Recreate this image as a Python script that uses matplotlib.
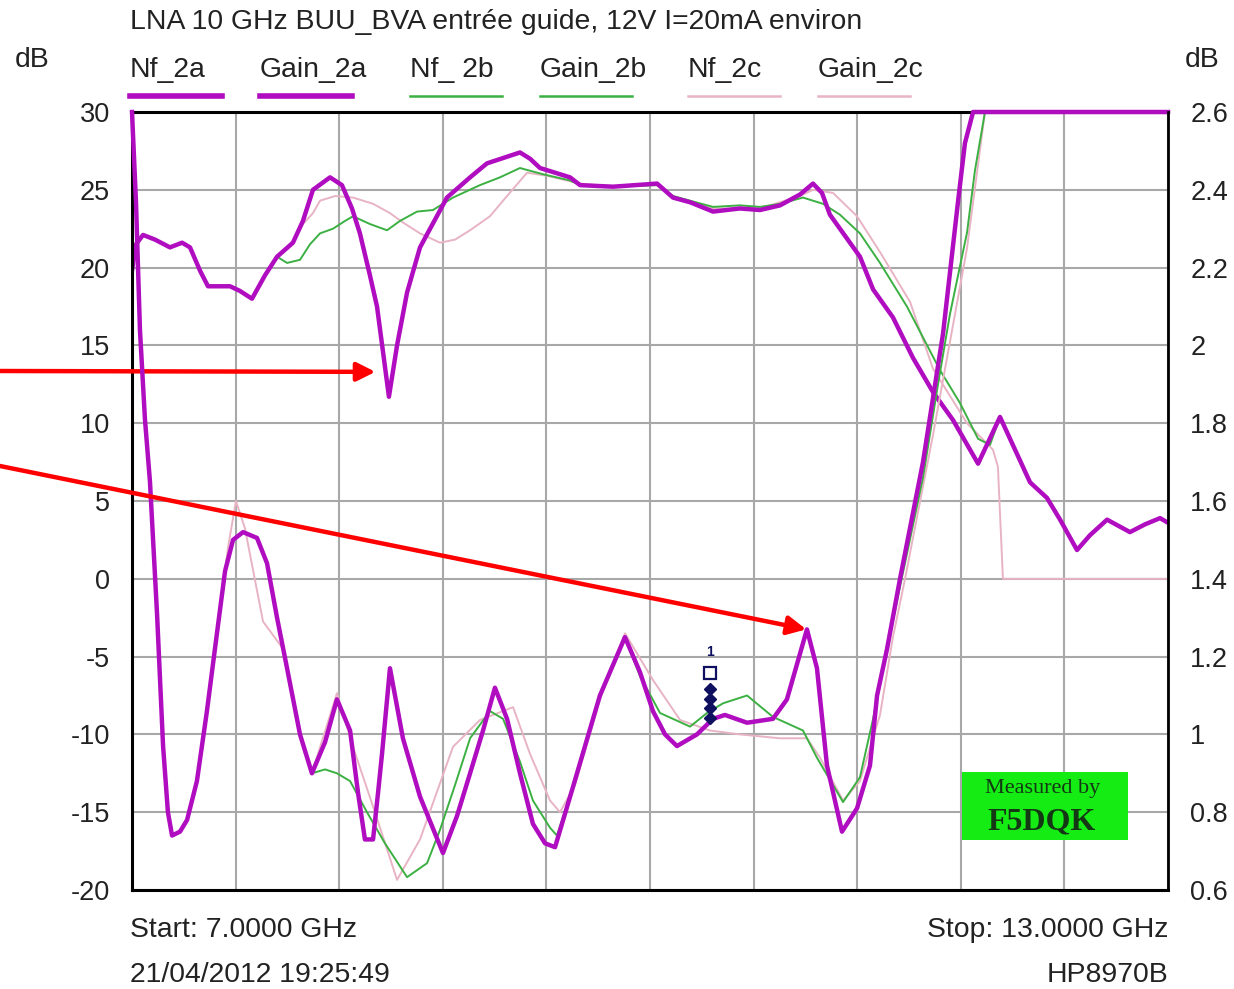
import numpy as np
import matplotlib
matplotlib.use("Agg")
import matplotlib.pyplot as plt
from matplotlib.lines import Line2D
from matplotlib.patches import Rectangle

# ---------------- measurement data (frequency in GHz) ----------------
gain_2a_f = [7.000, 7.023, 7.064, 7.133, 7.220, 7.290, 7.336, 7.394, 7.440, 7.568, 7.625, 7.695,
             7.770, 7.840, 7.932, 7.990, 8.048, 8.147, 8.216, 8.274, 8.320, 8.378, 8.419, 8.488,
             8.535, 8.593, 8.668, 8.824, 8.958, 9.056, 9.247, 9.305, 9.363, 9.537, 9.595, 9.786,
             10.041, 10.133, 10.232, 10.365, 10.521, 10.637, 10.753, 10.869, 10.944, 10.996,
             11.042, 11.216, 11.292, 11.407, 11.523, 11.639, 11.755, 11.900, 12.027, 12.114,
             12.201, 12.299, 12.375, 12.473, 12.548, 12.647, 12.780, 12.867, 12.954, 13.000]
gain_2a = [19.8, 21.5, 22.1, 21.8, 21.3, 21.6, 21.3, 19.8, 18.8, 18.8, 18.5, 18.0,
           19.5, 20.7, 21.6, 23.0, 25.0, 25.8, 25.3, 23.8, 22.2, 19.5, 17.5, 11.7,
           15.0, 18.4, 21.3, 24.5, 25.8, 26.7, 27.4, 27.0, 26.4, 25.8, 25.3, 25.2,
           25.4, 24.5, 24.2, 23.6, 23.8, 23.7, 24.0, 24.7, 25.4, 24.8,
           23.4, 20.7, 18.6, 16.8, 14.2, 12.0, 10.2, 7.4, 10.4, 8.3,
           6.2, 5.2, 3.8, 1.85, 2.8, 3.8, 3.0, 3.5, 3.9, 3.6]

gain_2b_f = [7.000, 7.023, 7.064, 7.133, 7.220, 7.290, 7.336, 7.394, 7.440, 7.568, 7.625, 7.695,
             7.770, 7.840, 7.898, 7.973, 8.031, 8.089, 8.164, 8.234, 8.280, 8.378, 8.477, 8.552,
             8.651, 8.743, 8.859, 9.015, 9.131, 9.247, 9.380, 9.537, 9.595, 9.786, 10.041, 10.133,
             10.365, 10.521, 10.637, 10.753, 10.886, 11.002, 11.100, 11.216, 11.332, 11.488,
             11.680, 11.795, 11.900, 11.969, 12.027, 12.114, 12.201, 12.299, 12.375, 12.473,
             12.548, 12.647, 12.780, 12.867, 12.954, 13.000]
gain_2b = [19.8, 21.5, 22.1, 21.8, 21.3, 21.6, 21.3, 19.8, 18.8, 18.8, 18.5, 18.0,
           19.5, 20.7, 20.3, 20.5, 21.5, 22.2, 22.5, 23.0, 23.3, 22.8, 22.4, 23.0,
           23.6, 23.7, 24.5, 25.3, 25.8, 26.4, 26.0, 25.6, 25.3, 25.2, 25.3, 24.6,
           23.9, 24.0, 23.9, 24.1, 24.5, 24.1, 23.4, 22.2, 20.3, 17.5,
           13.4, 11.3, 9.0, 8.6, 10.4, 8.3, 6.2, 5.2, 3.8, 1.85,
           2.8, 3.8, 3.0, 3.5, 3.9, 3.6]

gain_2c_f = [7.000, 7.023, 7.064, 7.133, 7.220, 7.290, 7.336, 7.394, 7.440, 7.568, 7.625, 7.695,
             7.770, 7.840, 7.932, 7.990, 8.048, 8.089, 8.176, 8.280, 8.396, 8.494, 8.569, 8.668,
             8.784, 8.871, 8.958, 9.073, 9.149, 9.288, 9.403, 9.595, 9.786, 10.041, 10.133,
             10.365, 10.637, 10.869, 10.944, 11.060, 11.199, 11.332, 11.506, 11.639, 11.836,
             11.986, 12.015, 12.044, 13.000]
gain_2c = [19.8, 21.5, 22.1, 21.8, 21.3, 21.6, 21.3, 19.8, 18.8, 18.8, 18.5, 18.0,
           19.5, 20.7, 21.6, 22.8, 23.5, 24.3, 24.6, 24.5, 24.1, 23.5, 22.9, 22.2,
           21.6, 21.8, 22.4, 23.3, 24.3, 26.1, 25.9, 25.4, 25.2, 25.3, 24.6,
           23.8, 23.8, 24.6, 25.0, 24.8, 23.3, 21.0, 17.8, 13.5, 10.0,
           8.3, 7.2, 0.0, 0.0]

nf_2a_f = [7.000, 7.023, 7.046, 7.075, 7.104, 7.145, 7.180, 7.208, 7.232, 7.278, 7.319, 7.376,
           7.434, 7.492, 7.539, 7.585, 7.643, 7.724, 7.782, 7.840, 7.898, 7.973, 8.042, 8.118,
           8.187, 8.263, 8.309, 8.349, 8.396, 8.425, 8.448, 8.494, 8.569, 8.668, 8.801, 8.882,
           8.958, 9.033, 9.102, 9.172, 9.247, 9.322, 9.392, 9.450, 9.554, 9.710, 9.855, 9.942,
           10.017, 10.087, 10.156, 10.272, 10.365, 10.434, 10.562, 10.712, 10.793, 10.851,
           10.909, 10.967, 11.025, 11.112, 11.199, 11.274, 11.315, 11.373, 11.448, 11.581,
           11.697, 11.784, 11.824, 11.871, 13.000]
nf_2a = [2.60, 2.37, 2.04, 1.81, 1.65, 1.31, 0.97, 0.80, 0.74, 0.75, 0.78, 0.88,
         1.06, 1.26, 1.42, 1.50, 1.52, 1.505, 1.44, 1.30, 1.17, 1.00, 0.90, 0.98,
         1.09, 1.01, 0.85, 0.73, 0.73, 0.85, 0.95, 1.17, 0.99, 0.84, 0.695, 0.79,
         0.90, 1.01, 1.12, 1.04, 0.90, 0.77, 0.72, 0.71, 0.865, 1.10, 1.25, 1.16,
         1.06, 1.00, 0.97, 1.00, 1.04, 1.05, 1.03, 1.04, 1.09, 1.18,
         1.27, 1.17, 0.92, 0.75, 0.81, 0.92, 1.10, 1.22, 1.40, 1.70,
         2.03, 2.37, 2.52, 2.60, 2.60]

nf_2b_f = [7.000, 7.023, 7.046, 7.075, 7.104, 7.145, 7.180, 7.208, 7.232, 7.278, 7.319, 7.376,
           7.434, 7.492, 7.539, 7.585, 7.643, 7.724, 7.782, 7.840, 7.898, 7.973, 8.042, 8.118,
           8.187, 8.263, 8.361, 8.465, 8.593, 8.709, 8.784, 8.871, 8.958, 9.073, 9.149, 9.247,
           9.322, 9.421, 9.461, 9.554, 9.710, 9.855, 9.942, 10.058, 10.232, 10.330, 10.423,
           10.562, 10.712, 10.886, 10.967, 11.118, 11.216, 11.292, 11.373, 11.448, 11.581,
           11.668, 11.737, 11.836, 11.882, 11.940, 13.000]
nf_2b = [2.60, 2.37, 2.04, 1.81, 1.65, 1.31, 0.97, 0.80, 0.74, 0.75, 0.78, 0.88,
         1.06, 1.26, 1.42, 1.50, 1.52, 1.505, 1.44, 1.30, 1.17, 1.00, 0.90, 0.91,
         0.90, 0.88, 0.80, 0.72, 0.633, 0.669, 0.755, 0.87, 0.99, 1.06, 1.04, 0.93,
         0.83, 0.76, 0.74, 0.865, 1.10, 1.25, 1.15, 1.055, 1.02, 1.055, 1.08,
         1.10, 1.045, 1.01, 0.94, 0.826, 0.89, 1.04, 1.22, 1.38, 1.66,
         1.90, 2.08, 2.29, 2.45, 2.60, 2.60]

nf_2c_f = [7.000, 7.023, 7.046, 7.075, 7.104, 7.145, 7.180, 7.208, 7.232, 7.278, 7.319, 7.376,
           7.434, 7.492, 7.556, 7.602, 7.654, 7.759, 7.875, 7.973, 8.042, 8.187, 8.280, 8.407,
           8.535, 8.668, 8.859, 9.015, 9.207, 9.305, 9.421, 9.479, 9.566, 9.710, 9.855, 10.017,
           10.174, 10.347, 10.521, 10.753, 10.909, 10.985, 11.118, 11.216, 11.332, 11.407,
           11.477, 11.639, 11.836, 11.940, 13.000]
nf_2c = [2.60, 2.37, 2.04, 1.81, 1.65, 1.31, 0.97, 0.80, 0.74, 0.75, 0.78, 0.88,
         1.06, 1.26, 1.48, 1.60, 1.53, 1.29, 1.22, 1.00, 0.90, 1.106, 0.968, 0.80,
         0.626, 0.73, 0.968, 1.037, 1.07, 0.95, 0.83, 0.80, 0.87, 1.09, 1.26, 1.14,
         1.037, 1.01, 1.00, 0.99, 0.99, 0.94, 0.83, 0.88, 1.05, 1.25,
         1.40, 1.77, 2.25, 2.60, 2.60]

freq_ticks = [7.0, 7.6, 8.2, 8.8, 9.4, 10.0, 10.6, 11.2, 11.8, 12.4, 13.0]
gain_ticks = [-20, -15, -10, -5, 0, 5, 10, 15, 20, 25, 30]
gain_tick_labels = ["-20", "-15", "-10", "-5", "0", "5", "10", "15", "20", "25", "30"]
nf_ticks = [0.6, 0.8, 1.0, 1.2, 1.4, 1.6, 1.8, 2.0, 2.2, 2.4, 2.6]
nf_tick_labels = ["0.6", "0.8", "1", "1.2", "1.4", "1.6", "1.8", "2", "2.2", "2.4", "2.6"]

legend_labels = ["Nf_2a", "Gain_2a", "Nf_ 2b", "Gain_2b", "Nf_2c", "Gain_2c"]

title_text = "LNA 10 GHz BUU_BVA entrée guide, 12V I=20mA environ"
start_text = "Start: 7.0000 GHz"
stop_text = "Stop: 13.0000 GHz"
date_text = "21/04/2012 19:25:49"
instrument_text = "HP8970B"

marker_freq = 10.347               # instrument marker 1
gain_arrow_target = (8.41, 13.3)   # points at the gain notch
nf_arrow_target = (10.905, 1.27)   # points at the NF bump (right-axis units)

# ---------------- styling ----------------
C_A = "#b00cc0"
C_B = "#3cb043"
C_C = "#e8b4c4"
NAVY = "#101060"
TXT = "#222222"
FS = 20.4
TICK_FS = 19.5

plt.rcParams['font.family'] = ['Liberation Sans', 'DejaVu Sans']

W, H = 1234, 989
fig = plt.figure(figsize=(W / 100, H / 100), dpi=100)
fig.patch.set_facecolor("white")


def fx(px):
    return px / W


def fy(py):
    return 1 - py / H


ax = fig.add_axes([fx(132), fy(890), fx(1168) - fx(132), fy(112) - fy(890)])
ax.set_xlim(7, 13)
ax.set_ylim(-20, 30)
ax.set_xticks(freq_ticks)
ax.set_xticklabels([])
ax.set_yticks(gain_ticks)
ax.set_yticklabels(gain_tick_labels)
ax.grid(True, color="#a8a8a8", lw=1.5)
ax.set_axisbelow(True)
ax.tick_params(length=0, pad=16, labelsize=TICK_FS, colors=TXT)
for s in ["top", "bottom", "left"]:
    ax.spines[s].set_color("black")
    ax.spines[s].set_linewidth(2.2)
ax.spines["right"].set_visible(False)

ax2 = ax.twinx()
ax2.set_ylim(0.6, 2.6)
ax2.set_yticks(nf_ticks)
ax2.set_yticklabels(nf_tick_labels)
ax2.tick_params(length=0, pad=16, labelsize=TICK_FS, colors=TXT)
for s in ["top", "bottom", "left"]:
    ax2.spines[s].set_visible(False)
ax2.spines["right"].set_color("black")
ax2.spines["right"].set_linewidth(2.0)

# gain traces (left axis)
ax.plot(gain_2c_f, gain_2c, color=C_C, lw=1.4)
ax.plot(gain_2b_f, gain_2b, color=C_B, lw=1.4)
ax.plot(gain_2a_f, gain_2a, color=C_A, lw=3.2, solid_joinstyle="round")

# noise figure traces (right axis)
ax2.plot(nf_2c_f, nf_2c, color=C_C, lw=1.4, clip_on=False)
ax2.plot(nf_2b_f, nf_2b, color=C_B, lw=1.4, clip_on=False)
ax2.plot(nf_2a_f, nf_2a, color=C_A, lw=3.2, clip_on=False, solid_joinstyle="round")

# marker 1 symbol on the Nf_2a trace
nf_at_marker = np.interp(marker_freq, nf_2a_f, nf_2a)
ax2.text(marker_freq, nf_at_marker + 0.18, "1", color=NAVY, fontsize=10, fontweight="bold",
         ha="center", va="center")
ax2.plot([marker_freq], [nf_at_marker + 0.125], marker="s", ms=9, mfc="none",
         mec=NAVY, mew=1.6)
ax2.plot([marker_freq] * 4,
         [nf_at_marker + 0.01, nf_at_marker + 0.035, nf_at_marker + 0.06, nf_at_marker + 0.085],
         ls="none", marker="D", ms=6, color=NAVY)

# red arrows
arrow_kw = dict(arrowstyle="-|>", color="#ff0000", lw=3.2, mutation_scale=28,
                shrinkA=0, shrinkB=0)
ax.annotate("", xy=gain_arrow_target, xycoords="data",
            xytext=(0.0, fy(371)), textcoords="figure fraction",
            arrowprops=arrow_kw, annotation_clip=False)
ax2.annotate("", xy=nf_arrow_target, xycoords="data",
             xytext=(0.0, fy(466)), textcoords="figure fraction",
             arrowprops=arrow_kw, annotation_clip=False)

# "Measured by" badge
fig.patches.append(Rectangle((fx(962), fy(840)), fx(1128) - fx(962), fy(772) - fy(840),
                             transform=fig.transFigure, facecolor="#14ec14",
                             edgecolor="none", zorder=5))
fig.text(fx(1043), fy(788), "Measured by", family=["Liberation Serif", "DejaVu Serif"],
         fontsize=16, color="#143814", ha="center", va="center", zorder=6)
fig.text(fx(1042), fy(822), "F5DQK", family=["Liberation Serif", "DejaVu Serif"],
         fontsize=23, fontweight="bold", color="#143814", ha="center", va="center", zorder=6)

# header texts
fig.text(fx(130), fy(22), title_text, fontsize=FS, color=TXT, ha="left", va="center")
fig.text(fx(15), fy(60), "dB", fontsize=FS, color=TXT, ha="left", va="center")
fig.text(fx(1185), fy(60), "dB", fontsize=FS, color=TXT, ha="left", va="center")

# legend row
legend_x = [130, 260, 410, 540, 688, 818]
legend_colors = [C_A, C_A, C_B, C_B, C_C, C_C]
legend_widths = [4.0, 4.0, 1.8, 1.8, 1.8, 1.8]
for x0, lab, col, lw in zip(legend_x, legend_labels, legend_colors, legend_widths):
    fig.text(fx(x0), fy(70), lab, fontsize=FS, color=TXT, ha="left", va="center")
    fig.lines.append(Line2D([fx(x0), fx(x0 + 92)], [fy(96), fy(96)],
                            transform=fig.transFigure, color=col, lw=lw))

# footer texts
fig.text(fx(130), fy(930), start_text, fontsize=FS, color=TXT, ha="left", va="center")
fig.text(fx(1168), fy(930), stop_text, fontsize=FS, color=TXT, ha="right", va="center")
fig.text(fx(130), fy(975), date_text, fontsize=FS, color=TXT, ha="left", va="center")
fig.text(fx(1168), fy(975), instrument_text, fontsize=FS, color=TXT, ha="right", va="center")

fig.savefig("out.png", dpi=100, facecolor="white")
